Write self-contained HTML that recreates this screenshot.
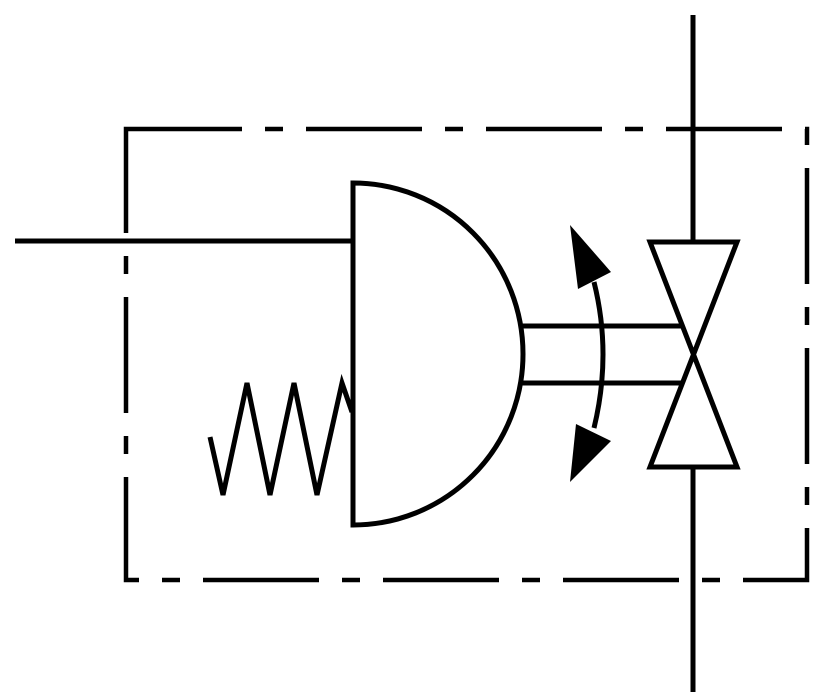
<!DOCTYPE html>
<html><head><style>html,body{margin:0;padding:0;background:#fff;width:818px;height:700px;overflow:hidden}</style></head>
<body>
<svg width="818" height="700" viewBox="0 0 818 700" xmlns="http://www.w3.org/2000/svg">
<g fill="none" stroke="#000" stroke-width="5">
<path d="M126 129 H807 V580 H126 Z" stroke-dasharray="116 23 18 23" stroke-width="4.5"/>
<line x1="693" y1="15" x2="693" y2="242"/>
<line x1="693" y1="467" x2="693" y2="692"/>
<line x1="15" y1="241" x2="353" y2="241"/>
<path d="M353 183 V525 A170 171 0 0 0 353 183 Z" stroke-linejoin="miter"/>
<line x1="522" y1="326" x2="684" y2="326"/>
<line x1="522" y1="383" x2="684" y2="383"/>
<path d="M650 242 H737 L650 467 H737 Z" stroke-linejoin="miter"/>
<polyline points="210,437 223,495 247,383 270,495 294,383 317,495 342,383 352,412" stroke-linejoin="miter"/>
<path d="M594 282 Q612 354 594 428"/>
</g>
<polygon points="570,225 578,289 611,272" fill="#000"/>
<polygon points="570,482 576,424 611,441" fill="#000"/>
</svg>
</body></html>
